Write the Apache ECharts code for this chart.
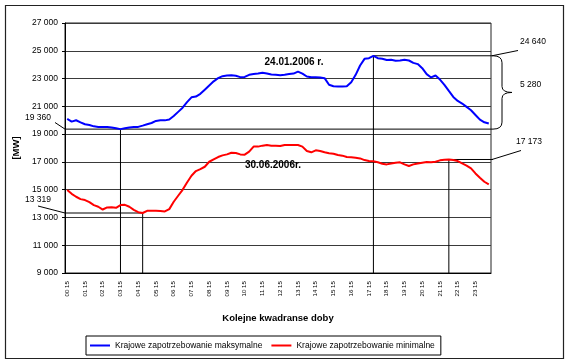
<!DOCTYPE html>
<html><head><meta charset="utf-8">
<script src="https://cdn.jsdelivr.net/npm/echarts@6/dist/echarts.min.js"></script>
<style>html,body{margin:0;padding:0;background:#fff}#c{width:570px;height:364px}</style>
</head><body><div id="c"></div>
<script>
// ---- data ----
const categories = [
'00 15','00 30','00 45','01 00','01 15','01 30','01 45','02 00','02 15','02 30','02 45','03 00',
'03 15','03 30','03 45','04 00','04 15','04 30','04 45','05 00','05 15','05 30','05 45','06 00',
'06 15','06 30','06 45','07 00','07 15','07 30','07 45','08 00','08 15','08 30','08 45','09 00',
'09 15','09 30','09 45','10 00','10 15','10 30','10 45','11 00','11 15','11 30','11 45','12 00',
'12 15','12 30','12 45','13 00','13 15','13 30','13 45','14 00','14 15','14 30','14 45','15 00',
'15 15','15 30','15 45','16 00','16 15','16 30','16 45','17 00','17 15','17 30','17 45','18 00',
'18 15','18 30','18 45','19 00','19 15','19 30','19 45','20 00','20 15','20 30','20 45','21 00',
'21 15','21 30','21 45','22 00','22 15','22 30','22 45','23 00','23 15','23 30','23 45','24 00'];

const maxDemand = [ // 24.01.2006
20090,19900,20000,19850,19710,19660,19560,19520,19510,19510,19470,19420,
19360,19420,19470,19510,19520,19610,19710,19800,19950,20000,19990,20050,
20300,20600,20900,21300,21650,21700,21900,22200,22500,22800,23030,23170,
23220,23230,23200,23100,23120,23270,23320,23360,23410,23360,23290,23270,
23240,23270,23320,23360,23500,23360,23150,23100,23100,23080,23030,22550,
22450,22430,22420,22450,22740,23270,23940,24420,24470,24640,24470,24420,
24330,24350,24280,24300,24350,24300,24130,24040,23750,23320,23080,23220,
22930,22550,22110,21680,21390,21200,20960,20720,20380,20040,19850,19760];

const minDemand = [ // 30.06.2006
14970,14700,14490,14320,14250,14100,13890,13770,13570,13720,13740,13690,
13890,13910,13770,13550,13380,13319,13480,13480,13480,13470,13430,13600,
14130,14560,14990,15520,16000,16340,16480,16650,17010,17180,17350,17470,
17540,17660,17640,17540,17520,17740,18100,18100,18170,18220,18170,18170,
18140,18220,18220,18220,18220,18100,17780,17690,17830,17780,17690,17620,
17590,17500,17450,17350,17330,17300,17250,17130,17060,17040,16970,16870,
16820,16890,16940,16970,16820,16700,16820,16890,16940,16990,16970,17010,
17110,17150,17173,17130,17060,16890,16730,16530,16170,15860,15570,15380];

const seriesNames = ['Krajowe zapotrzebowanie maksymalne','Krajowe zapotrzebowanie minimalne'];
const dayLabels = ['24.01.2006 r.','30.06.2006r.'];
const yMin = 9000, yMax = 27000, yStep = 2000;
const xTitle = 'Kolejne kwadranse doby', yTitle = '[MW]';
// annotated points: [category index, value]
const maxLow = [12, 19360], maxPeak = [69, 24640];
const minLow = [17, 13319], minEve = [86, 17173];
const peakSpan = maxPeak[1] - maxLow[1]; // 5 280

const FONT = '"Liberation Sans", Arial, sans-serif';
const fmt = v => String(v).replace(/\B(?=(\d{3})+(?!\d))/g, ' ');

const chart = echarts.init(document.getElementById('c'), null, {renderer:'canvas'});
chart.setOption({
  animation:false,
  backgroundColor:'#fff',
  textStyle:{fontFamily:FONT},
  grid:{left:65, right:79, top:23, bottom:91, show:true, borderColor:'#222', borderWidth:1, backgroundColor:'#fff'},
  legend:{
    left:86, top:336, padding:[4,6,4,4], itemGap:9, itemWidth:20, itemHeight:2,
    borderColor:'#000', borderWidth:1, icon:'rect',
    textStyle:{fontSize:8.5, color:'#000', fontFamily:FONT, lineHeight:11},
    data:seriesNames
  },
  xAxis:{
    type:'category', data:categories, boundaryGap:true,
    name:xTitle, nameLocation:'middle', nameGap:40,
    nameTextStyle:{fontSize:9.5, fontWeight:'bold', color:'#000', fontFamily:FONT},
    axisLine:{lineStyle:{color:'#000', width:1}},
    axisTick:{interval:0, length:3, lineStyle:{color:'#000'}},
    axisLabel:{interval:3, rotate:90, fontSize:6.2, color:'#000', margin:8, fontFamily:FONT},
    splitLine:{show:false}
  },
  yAxis:{
    type:'value', min:yMin, max:yMax, interval:yStep,
    name:yTitle, nameLocation:'middle', nameGap:44, nameRotate:90,
    nameTextStyle:{fontSize:9.5, fontWeight:'bold', color:'#000', fontFamily:FONT},
    axisLine:{show:true, lineStyle:{color:'#000', width:1}},
    axisTick:{show:true, length:3, lineStyle:{color:'#000'}},
    axisLabel:{formatter:fmt, fontSize:8.5, color:'#000', margin:7, fontFamily:FONT},
    splitLine:{show:true, lineStyle:{color:'#3a3a3a', width:1}}
  },
  series:[
    {name:seriesNames[0], type:'line', data:maxDemand, symbol:'none', showSymbol:false,
     lineStyle:{color:'#0000ff', width:2}, itemStyle:{color:'#0000ff'}, z:3},
    {name:seriesNames[1], type:'line', data:minDemand, symbol:'none', showSymbol:false,
     lineStyle:{color:'#ff0000', width:2}, itemStyle:{color:'#ff0000'}, z:3}
  ]
});

// ---- annotations via the chart's own scales ----
const px = p => chart.convertToPixel({gridIndex:0}, p);
const c0 = px([0, yMin]), c1 = px([1, yMin]);
const band = c1[0] - c0[0];
const xL = c0[0] - band/2;
const xR = px([categories.length-1, yMin])[0] + band/2;
const yB = c0[1];
const pBL = px(maxLow), pBP = px(maxPeak), pRL = px(minLow), pRE = px(minEve);
const stroke = {stroke:'#000', lineWidth:1};
const line = (x1,y1,x2,y2) => ({type:'line', z:1, silent:true, shape:{x1,y1,x2,y2}, style:stroke});
const curve = (x1,y1,cx,cy,x2,y2) => ({type:'bezierCurve', z:1, silent:true,
  shape:{x1,y1,x2,y2,cpx1:cx,cpy1:cy}, style:{stroke:'#000', lineWidth:1, fill:null}});
const txt = (x,y,t,opt={}) => ({type:'text', z:5, silent:true, x, y,
  style:Object.assign({text:t, fill:'#000', font:'8.5px '+FONT, textAlign:'left', textVerticalAlign:'middle'}, opt)});

const ymid = (pBP[1] + pBL[1]) / 2;
const bx0 = xR + 2, bx1 = xR + 11, bx2 = xR + 21;

chart.setOption({graphic:{elements:[
  // blue minimum
  line(xL, pBL[1], xR+2, pBL[1]),
  line(pBL[0], pBL[1], pBL[0], yB),
  line(xL, pBL[1], 55, 122.5),
  txt(25, 118, fmt(maxLow[1])),
  // blue peak
  line(pBP[0], pBP[1], xR+2, pBP[1]),
  line(pBP[0], pBP[1], pBP[0], yB),
  line(xR+1, pBP[1], 518, 50.5),
  txt(520, 41.5, fmt(maxPeak[1])),
  // brace & span
  curve(bx0, pBP[1], bx1, pBP[1], bx1, pBP[1]+7),
  line(bx1, pBP[1]+7, bx1, ymid-6),
  curve(bx1, ymid-6, bx1, ymid, bx2, ymid),
  curve(bx2, ymid, bx1, ymid, bx1, ymid+6),
  line(bx1, ymid+6, bx1, pBL[1]-7),
  curve(bx1, pBL[1]-7, bx1, pBL[1], bx0, pBL[1]),
  txt(520, 84.5, fmt(peakSpan)),
  // red minimum
  line(xL, pRL[1], pRL[0], pRL[1]),
  line(pRL[0], pRL[1], pRL[0], yB),
  line(xL, pRL[1], 38, 206),
  txt(25, 200, fmt(minLow[1])),
  // red evening
  line(pRE[0], pRE[1], xR+2, pRE[1]),
  line(pRE[0], pRE[1], pRE[0], yB),
  line(xR+1, pRE[1], 521, 150.5),
  txt(516, 142, fmt(minEve[1])),
  // day captions
  txt(294, 62.5, dayLabels[0], {font:'bold 10px '+FONT, textAlign:'center'}),
  txt(273, 165.5, dayLabels[1], {font:'bold 10px '+FONT, textAlign:'center'}),
  // outer frame
  {type:'rect', z:0, silent:true, shape:{x:5.5, y:5.5, width:558, height:353}, style:{stroke:'#222', lineWidth:1.2, fill:null}}
]}});
</script></body></html>
